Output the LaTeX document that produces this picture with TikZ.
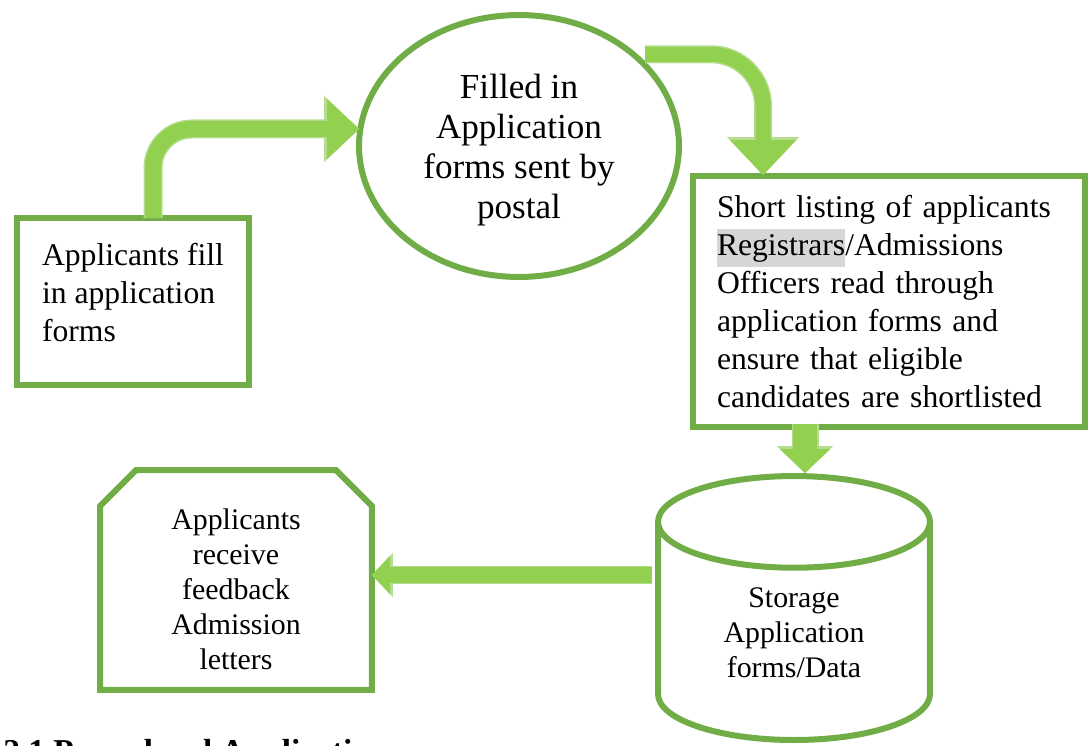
\documentclass[tikz,border=0pt]{standalone}
\usepackage{fontspec}
\setmainfont{Liberation Serif}
\usetikzlibrary{shapes.geometric,arrows.meta,calc}
\definecolor{edgegreen}{HTML}{70AD47}
\definecolor{arrowfill}{HTML}{92D050}
\definecolor{arrowrim}{HTML}{B5DC8F}
\definecolor{marker}{HTML}{D6D6D6}
\setlength{\fboxsep}{0pt}
\tikzstyle{every node}=[inner sep=0pt]
\tikzset{
    box/.style={draw=edgegreen,line width=0.12cm,rectangle},
    bodytext/.style={font=\fontsize{18}{21.6}\selectfont},
    smalltext/.style={font=\fontsize{17}{20}\selectfont},
    flow/.style n args={3}{draw=arrowfill,line width=#1,
        -{Triangle[length=#2,width=#3,line width=0.1pt]}},
    rim/.style n args={3}{draw=arrowrim,line width=#1,
        -{Triangle[length=#2,width=#3,line width=0.1pt]}}
}

\begin{document}
\begin{tikzpicture}[x=0.02cm,y=-0.02cm,line join=miter]
    \useasboundingbox (0,0) rectangle (1092,746);
    \node[box,bodytext,minimum width=4.64cm,minimum height=3.34cm,
        align=left,text height=1.6cm,text depth=0pt] (fill) at (133,301.5)
        {Applicants fill\\in application\\forms};
    \node[draw=edgegreen,line width=0.12cm,ellipse,minimum width=6.4cm,
        minimum height=5.24cm,align=center,text depth=-0.2cm,
        font=\fontsize{20}{22.8}\selectfont] (post) at (519,146)
        {Filled in\\Application\\forms sent by\\postal};
    \node[box,bodytext,minimum width=7.84cm,minimum height=5.02cm,
        text width=6.88cm,align=left] (short) at (889,301.5)
        {Short listing of applicants\\\colorbox{marker}{\strut Registrars}/Admissions\\
        Officers read through\\application forms and\\ensure that eligible\\
        candidates are shortlisted};
    \node[draw=edgegreen,line width=0.12cm,cylinder,shape border rotate=90,
        aspect=0.65,minimum width=5.44cm,minimum height=5.28cm,anchor=south,
        align=center,smalltext] (store) at (794,743)
        {Storage\\Application\\forms/Data};
    \node[minimum width=5.44cm,minimum height=4.4cm,outer sep=0pt,
        align=center,smalltext,text height=3.6cm,text depth=0pt] (reply) at (236,580)
        {Applicants\\receive\\feedback\\Admission\\letters};
    \draw[edgegreen,line width=0.12cm] ($(reply.north west)+(0,36)$) -- ++(36,-36)
        -- ($(reply.north east)+(-36,0)$) -- ++(36,36)
        -- (reply.south east) -- (reply.south west) -- cycle;

    % block arrows
    \coordinate (s1) at ($(fill.north)+(20,3)$);
    \coordinate (t1) at ($(post.west)+(3,-17)$);
    \draw[rounded corners=0.78cm,flow={0.32cm}{0.64cm}{1.2cm},
        preaction={rim={0.38cm}{0.7cm}{1.32cm}}] (s1) |- (t1);
    \coordinate (s2) at ($(post.north east)+(11,3)$);
    \coordinate (t2) at ($(short.north west)+(73,2)$);
    \draw[rounded corners=1.04cm,flow={0.3cm}{0.7cm}{1.32cm},
        preaction={rim={0.36cm}{0.76cm}{1.44cm}}] (s2) -| (t2);
    \coordinate (s3) at ($(short.south)+(-84,-6)$);
    \draw[flow={0.48cm}{0.48cm}{1.0cm},
        preaction={rim={0.54cm}{0.54cm}{1.12cm}}] (s3) -- (s3 |- store.north);
    \coordinate (s4) at ($(store.south -| store.west)+(-3,-168)$);
    \draw[flow={0.32cm}{0.36cm}{0.76cm},
        preaction={rim={0.38cm}{0.42cm}{0.88cm}}] (s4) -- (reply.east |- s4);

    \node[anchor=base west,font=\fontsize{19}{22}\selectfont\bfseries] (heading)
        at (3,762) {2.1 Procedural Application};
\end{tikzpicture}
\end{document}
